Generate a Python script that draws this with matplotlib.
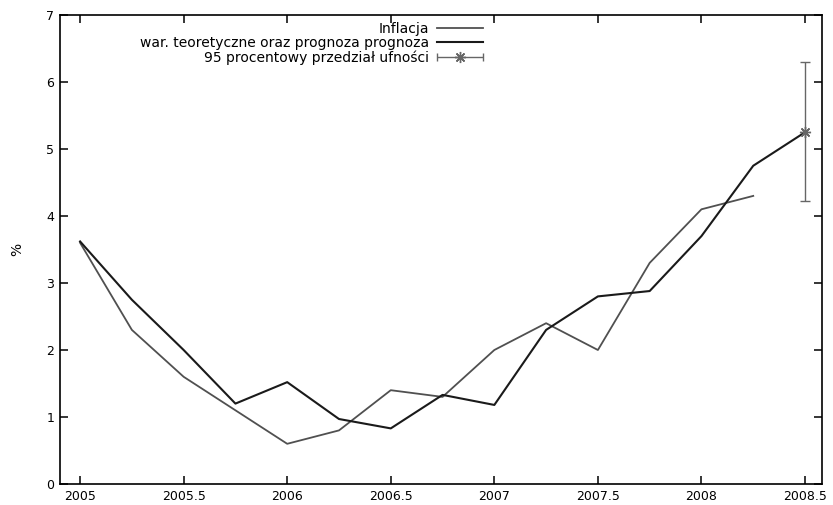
import numpy as np
import matplotlib
matplotlib.use('Agg')
import matplotlib.pyplot as plt
from matplotlib.lines import Line2D
from matplotlib.collections import LineCollection
from matplotlib.container import ErrorbarContainer
from matplotlib.legend_handler import HandlerErrorbar

# quarterly observations
kwartaly = [2005.0, 2005.25, 2005.5, 2005.75, 2006.0, 2006.25, 2006.5, 2006.75,
            2007.0, 2007.25, 2007.5, 2007.75, 2008.0, 2008.25, 2008.5]
inflacja = [3.6, 2.3, 1.6, 1.1, 0.6, 0.8, 1.4, 1.3, 2.0, 2.4, 2.0, 3.3, 4.1, 4.3]
prognoza = [3.62, 2.75, 2.0, 1.2, 1.52, 0.97, 0.83, 1.33, 1.18, 2.3, 2.8, 2.88,
            3.7, 4.75, 5.25]
przedzial_x = [2008.5]
przedzial_y = [5.25]
przedzial_dol = [4.22]
przedzial_gora = [6.3]

x_ticks = [2005, 2005.5, 2006, 2006.5, 2007, 2007.5, 2008, 2008.5]
x_labels = ['2005', '2005.5', '2006', '2006.5', '2007', '2007.5', '2008', '2008.5']

fig = plt.figure(figsize=(8.33, 5.05), dpi=100)
ax = fig.add_axes([60 / 833, 21 / 505, 762 / 833, 469 / 505])

ax.plot(kwartaly[:len(inflacja)], inflacja, color='#505050', lw=1.3)
ax.plot(kwartaly, prognoza, color='#1a1a1a', lw=1.5)

yerr = [[c - d for c, d in zip(przedzial_y, przedzial_dol)],
        [g - c for c, g in zip(przedzial_y, przedzial_gora)]]
ax.errorbar(przedzial_x, przedzial_y, yerr=yerr, fmt='none', ecolor='#666666',
            elinewidth=1.0, capsize=3.5, capthick=1.0)
ax.plot(przedzial_x, przedzial_y, ls='none', marker=(8, 2, 0), ms=8,
        mec='#666666', mew=1.0)

ax.set_xlim(2004.903, 2008.582)
ax.set_ylim(0, 7)
ax.set_xticks(x_ticks)
ax.set_xticklabels(x_labels)
ax.set_yticks(range(0, 8))
ax.tick_params(direction='in', top=True, right=True, length=6, width=1.1,
               labelsize=9, pad=4)
for s in ax.spines.values():
    s.set_linewidth(1.2)
ax.set_ylabel('%', fontsize=10, labelpad=16)

# legend handles, gnuplot style (key text on the left, sample on the right)
h1 = Line2D([], [], color='#505050', lw=1.3)
h2 = Line2D([], [], color='#1a1a1a', lw=1.5)
pl = Line2D([], [], ls='none', marker=(8, 2, 0), ms=8, mec='#666666', mew=1.0)
cap = Line2D([], [], color='#666666', lw=1.0, marker='|', ms=6, mew=1.0)
bar = LineCollection([], colors='#666666', linewidths=1.0)
h3 = ErrorbarContainer((pl, [cap, cap], [bar]), has_xerr=True, has_yerr=False)

leg = ax.legend([h1, h2, h3],
                ['Inflacja', 'war. teoretyczne oraz prognoza prognoza',
                 '95 procentowy przedział ufności'],
                loc='upper right', bbox_to_anchor=(0.555, 0.985), frameon=False,
                markerfirst=False, fontsize=10, handlelength=3.3,
                labelspacing=0.0, handletextpad=0.55, borderaxespad=0,
                borderpad=0, numpoints=1,
                handler_map={ErrorbarContainer: HandlerErrorbar(xerr_size=1.65)})

fig.savefig('out.png', dpi=100)
